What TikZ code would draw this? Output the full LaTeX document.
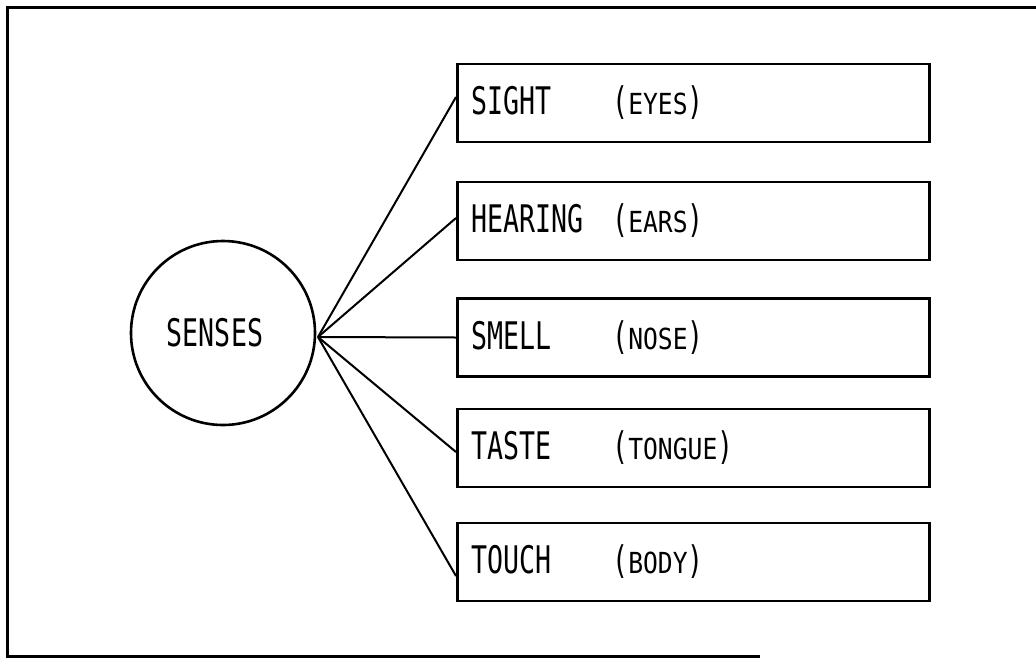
\documentclass[tikz,border=0pt]{standalone}
\usepackage{fontspec}
\newfontfamily\lgfont[FakeStretch=0.7]{DejaVu Sans Mono}
\newfontfamily\lgscfont[FakeStretch=0.85]{DejaVu Sans Mono}
\newcommand\smallcapsx[1]{{\lgscfont\fontsize{29}{30}\selectfont #1}}
\newcommand\entry[2]{\makebox[141pt][l]{#1}(\smallcapsx{#2})}
\begin{document}
\begin{tikzpicture}[x=1pt,y=-1pt,
  every node/.style={font=\lgfont\fontsize{38}{40}\selectfont},
  sensebox/.style={draw, line width=2.6pt, rectangle, anchor=west,
    text width=444pt, inner xsep=14pt, inner ysep=0pt, minimum height=78pt, align=left},
  hubcircle/.style={draw, line width=2.6pt, circle, minimum size=184pt, inner sep=0pt},
  conn/.style={line width=2pt},
  frame/.style={line width=3pt}]
\useasboundingbox (0,0) rectangle (1036,659);
% outer frame
\coordinate (ftr) at (1036,7);
\coordinate (ftl) at (7,7);
\coordinate (fbl) at (7,656);
\coordinate (fbr) at (760,656);
\draw[frame] (ftr) -- (ftl) -- (fbl) -- (fbr);
% centre
\node[hubcircle] (senses) at (223,333) {\makebox[0pt]{SENSES\hspace*{16pt}}};
\coordinate (hub) at (318,337);
% boxes
\node[sensebox] (b1) at (456,103) {\entry{SIGHT}{EYES}};
\node[sensebox] (b2) at (456,221) {\entry{HEARING}{EARS}};
\node[sensebox] (b3) at (456,337.5) {\entry{SMELL}{NOSE}};
\node[sensebox] (b4) at (456,448) {\entry{TASTE}{TONGUE}};
\node[sensebox] (b5) at (456,562) {\entry{TOUCH}{BODY}};
% connectors
\draw[conn] (hub) -- ([yshift=6pt]b1.west);
\draw[conn] (hub) -- ([yshift=3pt]b2.west);
\draw[conn] (hub) -- (b3.west);
\draw[conn] (hub) -- ([yshift=-4pt]b4.west);
\draw[conn] (hub) -- ([yshift=-14pt]b5.west);
\end{tikzpicture}
\end{document}
